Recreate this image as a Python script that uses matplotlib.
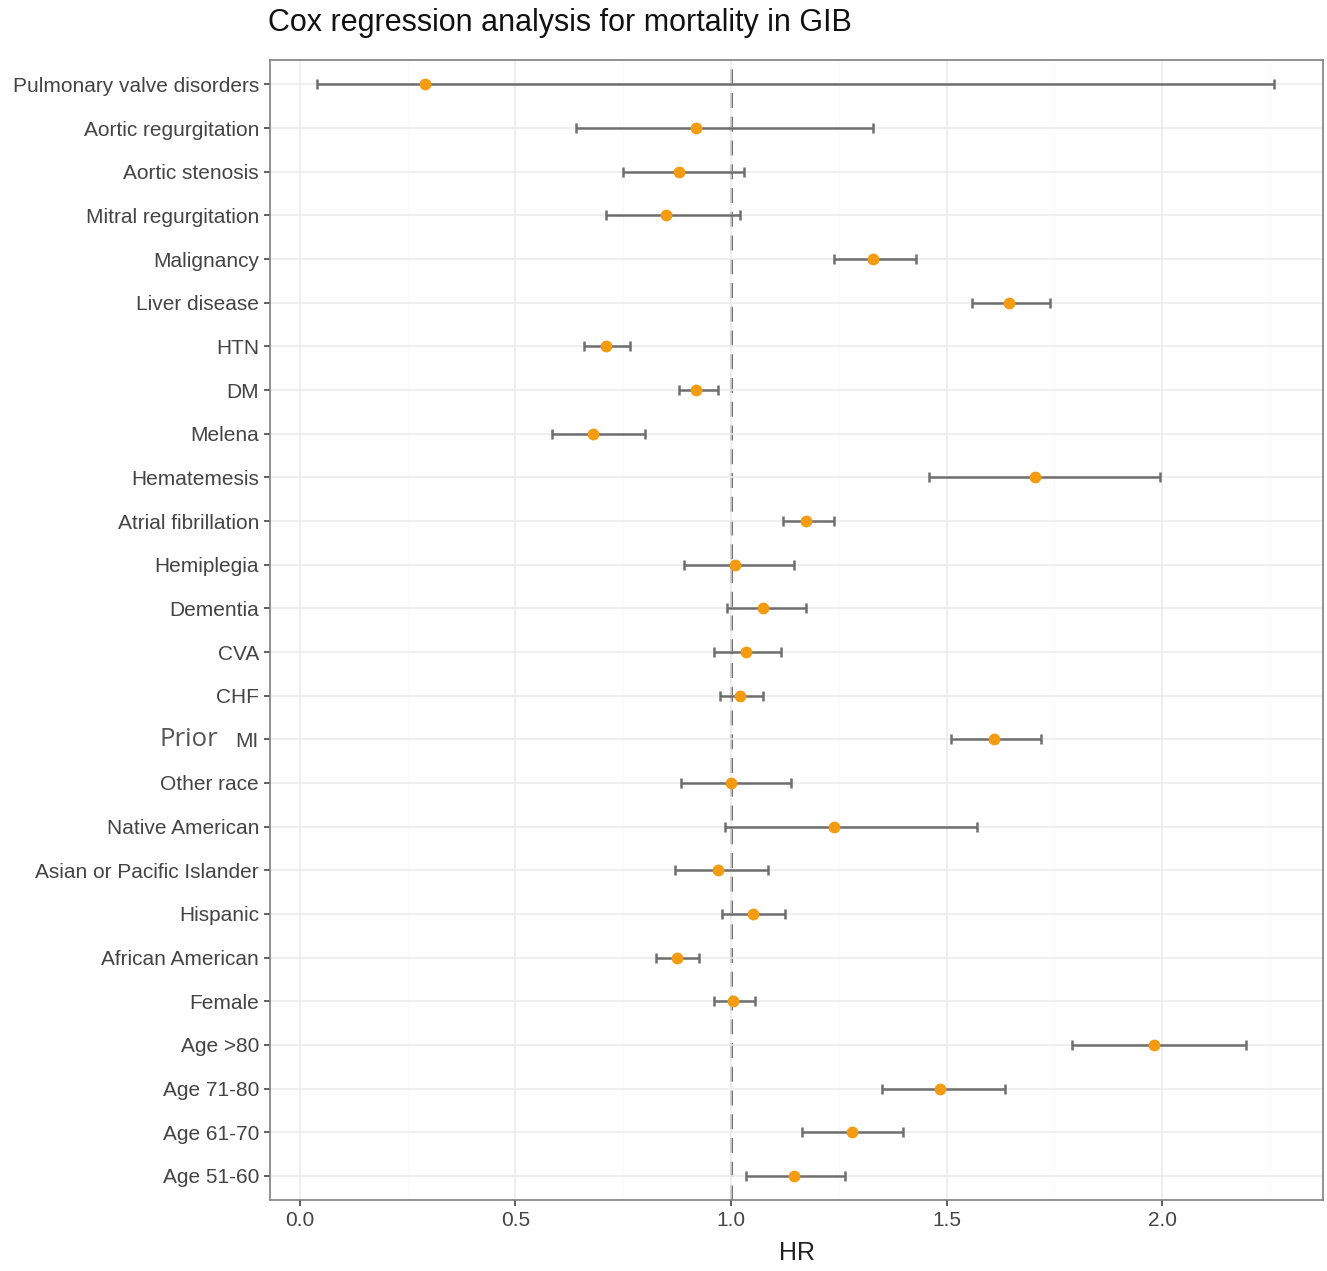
import matplotlib
matplotlib.use("Agg")
import matplotlib.pyplot as plt
from matplotlib.ticker import MultipleLocator
import numpy as np

plt.rcParams["font.family"] = ["Liberation Sans", "DejaVu Sans"]

# Variables top to bottom, hazard ratio with 95% CI
variables = [
    "Pulmonary valve disorders", "Aortic regurgitation", "Aortic stenosis",
    "Mitral regurgitation", "Malignancy", "Liver disease", "HTN", "DM",
    "Melena", "Hematemesis", "Atrial fibrillation", "Hemiplegia", "Dementia",
    "CVA", "CHF", "MI", "Other race", "Native American",
    "Asian or Pacific Islander", "Hispanic", "African American", "Female",
    "Age >80", "Age 71-80", "Age 61-70", "Age 51-60",
]
hr = [0.29, 0.92, 0.88, 0.85, 1.33, 1.645, 0.71, 0.92, 0.68, 1.705, 1.175,
      1.01, 1.075, 1.035, 1.02, 1.61, 1.00, 1.24, 0.97, 1.05, 0.875, 1.005,
      1.98, 1.485, 1.28, 1.145]
ci_low = [0.04, 0.64, 0.75, 0.71, 1.24, 1.56, 0.66, 0.88, 0.585, 1.46, 1.12,
          0.89, 0.99, 0.96, 0.975, 1.51, 0.885, 0.985, 0.87, 0.98, 0.825, 0.96,
          1.79, 1.35, 1.165, 1.035]
ci_high = [2.26, 1.33, 1.03, 1.02, 1.43, 1.74, 0.765, 0.97, 0.80, 1.995, 1.24,
           1.145, 1.175, 1.115, 1.075, 1.72, 1.14, 1.57, 1.085, 1.125, 0.925,
           1.055, 2.195, 1.635, 1.40, 1.265]
x_ticks = [0.0, 0.5, 1.0, 1.5, 2.0]

hr = np.array(hr)
ci_low = np.array(ci_low)
ci_high = np.array(ci_high)
ypos = np.arange(len(variables))

fig = plt.figure(figsize=(13.27, 12.71), dpi=100)
ax = fig.add_axes([0.2035, 0.0559, 0.7935, 0.8969])

ax.set_xlim(-0.069, 2.373)
ax.set_ylim(len(variables) - 0.45, -0.56)

# grid
ax.xaxis.set_minor_locator(MultipleLocator(0.25))
ax.grid(which="major", axis="both", color="#ebebeb", linewidth=1.1, zorder=0)
ax.grid(which="minor", axis="x", color="#f7f7f7", linewidth=0.5, zorder=0)

ax.axvline(1.0, color="#444444", linestyle=(0, (6, 3.5)), linewidth=1.8, zorder=1)

ax.errorbar(hr, ypos, xerr=[hr - ci_low, ci_high - hr], fmt="none",
            ecolor="#6e6e6e", elinewidth=1.8, capsize=3.5, capthick=1.8, zorder=2)
ax.plot(hr, ypos, "o", color="#f39c12", markersize=8.5, markeredgewidth=0, zorder=3)

ax.set_yticks(ypos)
ax.set_yticklabels(variables)
ax.set_xticks(x_ticks)
ax.set_xticklabels(["{:.1f}".format(v) for v in x_ticks])
ax.tick_params(axis="both", which="major", labelsize=15, labelcolor="#444444",
               color="#444444", length=4, width=1.2, pad=4)
ax.tick_params(axis="x", which="minor", length=0)

for spine in ax.spines.values():
    spine.set_color("#7f7f7f")
    spine.set_linewidth(1.2)

ax.set_xlabel("HR", fontsize=18, color="#222222", labelpad=8)

# "Prior" was pasted in a different typeface in the source figure
ax.annotate("Prior", xy=(-0.049, variables.index("MI")),
            xycoords=("axes fraction", "data"), ha="right", va="center",
            fontsize=18.5, color="#555555", family=["Open Sans", "DejaVu Sans"])

fig.text(0.202, 0.982, "Cox regression analysis for mortality in GIB",
         fontsize=22, color="#111111", ha="left", va="center")

fig.savefig("out.png", dpi=100)
